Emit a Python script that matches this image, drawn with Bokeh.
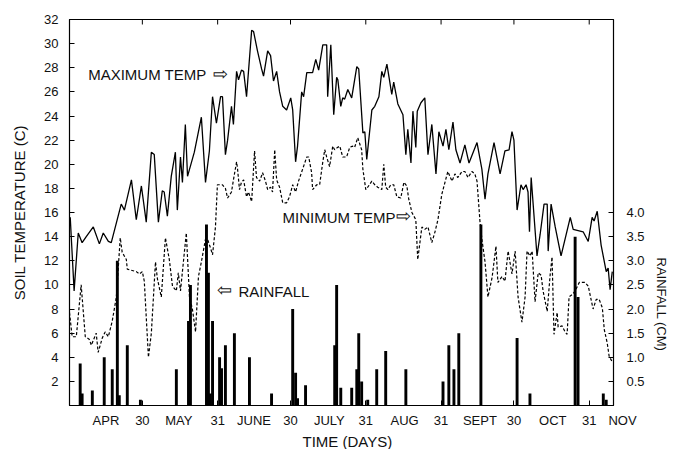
import math
from bokeh.plotting import figure
from bokeh.models import Range1d, LinearAxis, FixedTicker, Label, NumeralTickFormatter, Title
from bokeh.embed import file_html
from bokeh.resources import INLINE

# Day numbering: 1 = April 1 (0 = March 31)
max_day = [0.3, 1.9, 3.6, 5.2, 6.9, 9.8, 12.3, 13.9, 16.0, 17.2, 21.3, 22.6, 25.5, 27.5, 29.6,
           31.6, 33.7, 34.9, 36.6, 38.2, 39.0, 40.3, 41.9, 43.6, 44.4, 45.7, 46.5, 47.7, 48.6,
           51.4, 54.3, 56.0, 57.6, 58.9, 60.5, 62.2, 63.0, 64.2, 65.1, 66.7, 67.5, 68.8, 69.6,
           70.8, 71.7, 72.9, 75.0, 75.8, 77.4, 79.1, 79.9, 81.6, 82.8, 84.0, 85.3, 86.5, 87.8,
           89.4, 91.1, 91.9, 93.1, 93.9, 95.6, 96.4, 97.7, 100.1, 101.4, 102.6, 104.3, 105.9,
           106.3, 107.6, 108.8, 110.0, 110.5, 111.7, 112.5, 113.3, 114.6, 116.2, 118.3, 119.1,
           120.8, 121.6, 122.4, 124.5, 125.7, 127.4, 128.6, 129.4, 130.7, 131.5, 132.7, 133.5,
           135.2, 137.3, 138.5, 139.3, 140.6, 141.4, 142.6, 143.2, 144.7, 146.3, 147.6, 149.2,
           150.9, 152.1, 153.8, 155.0, 156.2, 157.9, 159.1, 160.8, 162.8, 164.5, 167.8, 169.8,
           171.1, 172.3, 174.8, 177.3, 179.3, 181.0, 182.2, 183.0, 184.3, 185.9, 186.8, 188.0,
           188.8, 189.4, 190.1, 192.5, 193.8, 195.4, 196.7, 197.1, 198.3, 200.0, 202.4, 206.2,
           207.4, 211.5, 213.6, 215.2, 216.0, 217.3, 218.9, 221.0, 221.8, 222.6, 223.5]
max_temp = [15.6, 9.5, 14.3, 13.5, 14.0, 14.8, 13.4, 14.3, 13.6, 13.5, 16.7, 16.2, 18.7, 15.4, 18.2,
            15.2, 21.0, 20.8, 15.2, 17.8, 17.7, 15.7, 19.0, 21.0, 16.2, 20.6, 18.5, 23.3, 19.0,
            21.0, 23.9, 18.5, 21.1, 25.6, 23.4, 25.6, 25.6, 20.8, 22.0, 24.8, 23.3, 27.7, 27.0,
            27.8, 27.7, 25.6, 31.1, 31.0, 29.4, 27.9, 27.3, 29.4, 29.0, 26.9, 27.7, 26.0, 24.8,
            24.5, 25.5, 24.5, 20.2, 21.5, 26.0, 25.6, 27.6, 27.6, 28.7, 27.8, 29.9, 29.9,
            25.6, 29.9, 24.1, 27.2, 27.0, 24.8, 25.5, 25.4, 26.2, 25.5, 28.1, 27.9,
            22.6, 22.7, 20.4, 24.5, 24.8, 25.6, 27.7, 27.2, 28.3, 27.3, 25.8, 26.8,
            25.0, 24.1, 20.8, 22.9, 20.1, 24.4, 21.4, 24.4, 25.1, 25.5, 20.8, 23.3,
            19.2, 22.7, 21.5, 22.9, 21.2, 23.5, 21.2, 20.1, 21.6, 20.1, 21.8, 19.6,
            17.1, 19.2, 21.8, 19.2, 21.1, 21.2, 22.7, 22.0, 16.2, 18.3, 17.9, 18.3,
            17.7, 14.4, 18.9, 12.4, 14.2, 16.7, 16.7, 12.8, 16.7, 14.8, 12.4, 15.6,
            14.6, 14.4, 13.6, 15.6, 15.3, 16.1, 13.3, 11.1, 11.4, 9.6, 11.1]

min_day = [0.0, 1.1, 2.8, 4.8, 6.5, 8.1, 9.0, 11.0, 11.8, 13.5, 14.7, 16.0, 17.6, 19.3, 20.9,
           21.7, 23.4, 23.8, 27.5, 28.8, 30.0, 30.8, 32.5, 33.7, 35.4, 36.2, 37.8, 39.5, 41.1,
           42.4, 44.0, 44.8, 45.7, 46.5, 48.1, 49.4, 50.6, 51.9, 53.1, 54.3, 56.0, 56.8, 58.0,
           58.9, 60.1, 60.9, 63.0, 64.2, 65.1, 66.7, 67.5, 68.8, 69.2, 70.0, 70.8, 71.7, 72.9,
           73.7, 75.0, 76.2, 77.0, 78.3, 79.5, 80.7, 81.6, 82.8, 83.6, 84.5, 85.3, 86.5, 87.8,
           89.4, 90.6, 91.9, 93.1, 94.3, 96.0, 97.7, 98.5, 99.7, 100.1, 101.8, 103.0, 104.3,
           105.1, 105.9, 107.1, 108.4, 109.2, 110.4, 111.3, 112.5, 114.1, 115.4, 116.6, 117.4,
           118.7, 120.3, 120.8, 122.0, 122.8, 124.5, 125.7, 126.9, 128.6, 129.4, 130.2, 131.1,
           132.3, 133.5, 134.8, 136.4, 137.7, 138.9, 139.7, 141.0, 142.6, 143.4, 145.1, 146.3,
           147.6, 149.2, 150.5, 151.7, 153.3, 154.6, 155.8, 157.5, 158.7, 159.9, 161.6, 162.8,
           164.1, 165.7, 166.9, 167.8, 169.0, 169.8, 171.1, 172.3, 174.0, 175.6, 176.4, 178.1,
           179.3, 180.6, 182.2, 183.5, 184.7, 186.3, 187.6, 188.4, 189.6, 190.5, 191.7, 193.0,
           194.2, 195.0, 196.7, 197.9, 198.7, 199.5, 200.8, 201.2, 202.8, 204.1, 204.9, 205.7,
           207.0, 208.2, 209.9, 212.3, 213.6, 215.6, 216.9, 218.1, 219.4, 220.2, 221.4, 222.2,
           223.5]
min_temp = [7.7, 5.7, 5.7, 10.0, 5.7, 5.5, 5.0, 6.0, 4.4, 5.6, 6.1, 5.7, 7.0, 9.0, 13.9,
            12.7, 12.1, 11.3, 11.1, 10.9, 11.1, 10.3, 4.0, 6.0, 11.9, 10.5, 9.0, 13.9, 12.1,
            9.9, 9.5, 11.0, 9.5, 11.1, 14.3, 9.0, 8.0, 6.1, 10.7, 11.9, 13.8, 13.8, 13.1,
            12.5, 14.8, 18.3, 18.3, 18.0, 17.2, 17.7, 18.7, 20.2, 19.6, 17.9, 18.5, 18.7, 17.3,
            17.7, 16.9, 21.1, 18.9, 18.6, 19.3, 18.6, 17.9, 18.1, 17.7, 21.2, 18.7, 18.1, 16.8,
            16.8, 17.3, 18.3, 17.7, 18.6, 19.6, 20.6, 20.6, 19.3, 17.9, 18.3, 18.3, 20.2,
            21.2, 20.6, 19.8, 21.5, 21.2, 21.4, 21.5, 20.6, 20.6, 21.4, 21.5, 21.4,
            22.2, 21.2, 19.6, 17.9, 18.1, 18.6, 18.3, 18.1, 17.9, 20.0, 18.1, 17.9,
            18.3, 18.3, 17.3, 17.2, 18.5, 18.2, 17.1, 16.0, 15.4, 12.1, 14.8, 14.6,
            14.8, 13.5, 14.4, 15.4, 17.5, 18.5, 19.4, 18.6, 19.2, 18.9, 19.4, 19.4,
            18.9, 19.4, 19.2, 18.6, 15.3, 13.8, 11.9, 9.0, 10.6, 13.2, 10.2, 10.7,
            10.3, 12.8, 10.9, 12.8, 9.0, 6.9, 9.0, 12.8, 12.4, 12.8, 8.6, 11.0,
            10.8, 9.5, 7.8, 10.8, 12.3, 5.9, 7.7, 6.5, 6.6, 6.1, 5.9, 9.0,
            9.2, 9.5, 10.2, 10.2, 9.9, 8.0, 8.8, 8.8, 8.1, 6.3, 5.2, 4.1,
            3.6]

rain_day = [4.4, 5.2, 9.4, 14.3, 17.6, 19.7, 20.5, 23.8, 29.2, 44.0, 49.0, 49.8, 56.4, 57.2,
            58.0, 58.9, 61.8, 62.6, 64.2, 67.9, 74.1, 83.2, 91.9, 93.1, 93.9, 97.2, 109.2,
            110.0, 111.7, 116.2, 118.3, 119.1, 120.3, 122.8, 126.5, 130.2, 138.5, 153.8,
            156.2, 158.3, 160.3, 169.4, 184.3, 189.6, 208.2, 209.4, 219.8, 221.0]
rain_cm = [0.87, 0.25, 0.31, 1.0, 0.75, 3.0, 0.21, 1.25, 0.12, 0.75, 1.75, 2.5, 3.75, 2.75,
           0.25, 1.75, 1.0, 0.77, 1.25, 1.5, 1.0, 0.25, 2.0, 0.68, 0.15, 0.42, 1.25,
           2.5, 0.37, 0.37, 0.75, 1.5, 0.5, 0.12, 0.75, 1.13, 0.75, 0.5,
           1.25, 0.75, 1.5, 3.75, 1.4, 0.25, 3.5, 2.25, 0.25, 0.12]

temp_ticks = list(range(2, 33, 2))
rain_ticks = [0.5, 1.0, 1.5, 2.0, 2.5, 3.0, 3.5, 4.0]
month_end_days = [30, 61, 91, 122, 153, 183, 214]
month_end_labels = ["30", "31", "30", "31", "31", "30", "31"]
month_mid_days = [15, 45, 76, 107, 138, 169, 199, 228]
month_names = ["APR", "MAY", "JUNE", "JULY", "AUG", "SEPT", "OCT", "NOV"]

X_END = 224
Y_TOP = 32
FONT = "Liberation Sans"
INK = "#111111"
NBSP = "\u00a0"

p = figure(width=676, height=449, x_range=Range1d(0, X_END), y_range=Range1d(0, Y_TOP),
           output_backend="svg", toolbar_location=None,
           min_border_left=69, min_border_right=63, min_border_top=19, min_border_bottom=43)
p.extra_y_ranges = {"rain": Range1d(0, 8)}
p.xgrid.visible = False
p.ygrid.visible = False
p.outline_line_color = "black"
p.outline_line_width = 1.2
p.background_fill_color = "white"
p.border_fill_color = "white"

# rainfall bars
p.vbar(x=rain_day, top=rain_cm, bottom=0, width=1.2, y_range_name="rain",
       fill_color="black", line_color=None)
# temperatures
p.line(max_day, max_temp, line_color="black", line_width=1.3)
p.line(min_day, min_temp, line_color="black", line_width=1.2, line_dash="3 2")

# inward tick marks on the top edge at month ends
tick_len = 5 * Y_TOP / 387.0
p.segment(x0=month_end_days, y0=[Y_TOP] * len(month_end_days),
          x1=month_end_days, y1=[Y_TOP - tick_len] * len(month_end_days),
          line_color="black", line_width=1)

# bottom axis: month names mid-month, day numbers at month ends
tick_pos = []
overrides = {}
for d, n in zip(month_mid_days, month_names):
    if d <= X_END:
        tick_pos.append(d)
        overrides[d] = n
    else:
        # label lies just past the frame edge: anchor at the edge, pad to push it right
        tick_pos.append(X_END)
        overrides[X_END] = NBSP * 5 + n
for d, n in zip(month_end_days, month_end_labels):
    tick_pos.append(d)
    overrides[d] = n
xa = p.xaxis[0]
xa.ticker = FixedTicker(ticks=tick_pos, minor_ticks=month_end_days)
xa.major_label_overrides = overrides
xa.major_tick_in = 0
xa.major_tick_out = 0
xa.minor_tick_in = 5
xa.minor_tick_out = 0
xa.minor_tick_line_color = "black"
xa.major_label_standoff = 7
xa.axis_line_color = "black"

# left axis
ya = p.yaxis[0]
ya.ticker = FixedTicker(ticks=temp_ticks)
ya.major_tick_in = 5
ya.major_tick_out = 0
ya.minor_tick_line_color = None
ya.major_label_standoff = 11
ya.axis_label = "SOIL TEMPERATURE (C)"
ya.axis_label_standoff = 13
ya.axis_line_color = "black"

# right axis
ra = LinearAxis(y_range_name="rain", ticker=FixedTicker(ticks=rain_ticks),
                formatter=NumeralTickFormatter(format="0.0"))
ra.major_tick_in = 5
ra.major_tick_out = 0
ra.minor_tick_line_color = None
ra.major_label_standoff = 13
p.add_layout(ra, "right")

for ax in [xa, ya, ra]:
    ax.major_label_text_font = FONT
    ax.major_label_text_color = INK
    ax.major_label_text_font_size = "13px"
    ax.axis_label_text_font = FONT
    ax.axis_label_text_font_style = "normal"
    ax.axis_label_text_color = INK
    ax.major_tick_line_color = "black"
ya.axis_label_text_font_size = "15px"

# axis titles outside the frame
p.add_layout(Title(text="RAINFALL (CM)", align="left", offset=238, standoff=12,
                   text_font=FONT, text_font_size="13px", text_font_style="normal",
                   text_color=INK), "right")
p.add_layout(Title(text="TIME (DAYS)", align="left", offset=233, standoff=0,
                   text_font=FONT, text_font_size="15px", text_font_style="normal",
                   text_color=INK), "below")

# series annotations
def note(x, y, text, size="15px", align="left"):
    p.add_layout(Label(x=x, y=y, text=text, text_align=align, text_baseline="middle",
                       text_font=FONT, text_font_size=size, text_color=INK))

note(7.7, 27.4, "MAXIMUM TEMP")
note(62.0, 27.5, "\u21e8", size="18px", align="center")
note(87.7, 15.6, "MINIMUM TEMP")
note(137.7, 15.7, "\u21e8", size="18px", align="center")
note(63.8, 9.55, "\u21e6", size="18px", align="center")
note(69.6, 9.45, "RAINFALL")

open("out.html", "w").write(file_html(p, INLINE))
